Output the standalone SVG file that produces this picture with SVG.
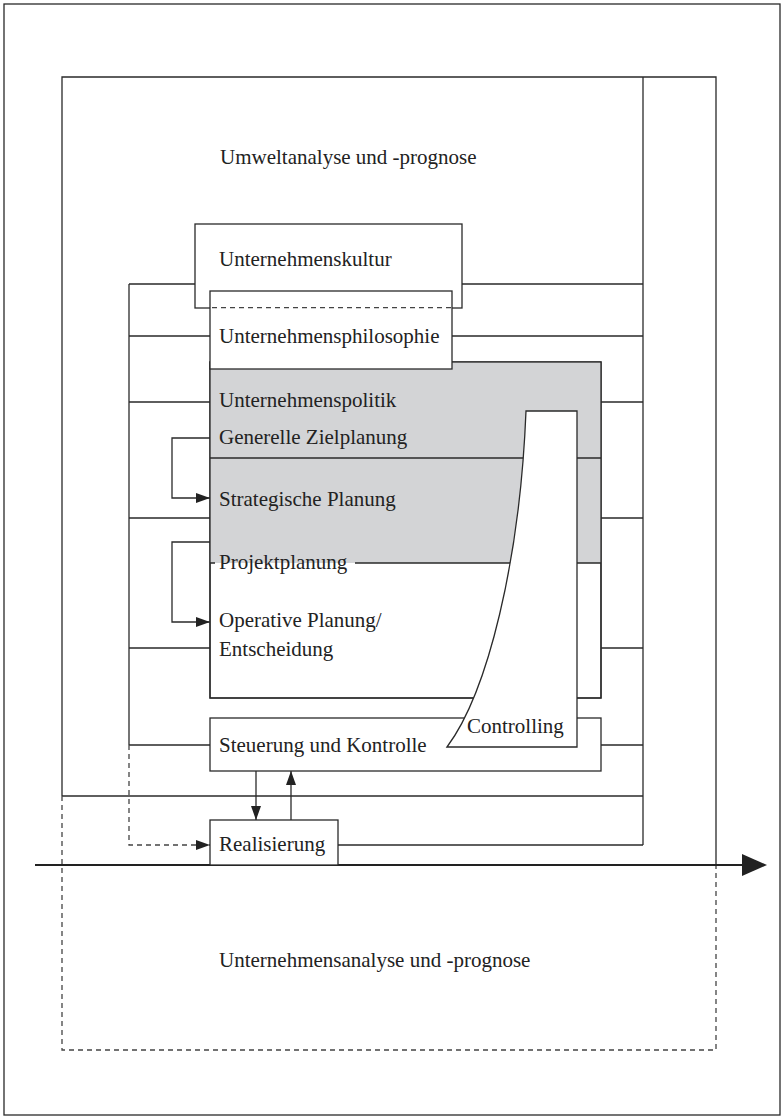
<svg xmlns="http://www.w3.org/2000/svg" width="781" height="1117" viewBox="0 0 781 1117">
<defs>
<style>
.ln{stroke:#2a2a2a;stroke-width:1.3;fill:none}
.box{stroke:#2a2a2a;stroke-width:1.3;fill:#fff}
.dash{stroke:#444;stroke-width:1.3;fill:none;stroke-dasharray:5 4}
.gray{fill:#d3d4d6;stroke:none}
.t{font-family:"Liberation Serif","Times New Roman",serif;font-size:21px;fill:#222}
</style>
<marker id="ah" viewBox="0 0 14 10" refX="14" refY="5" markerWidth="14" markerHeight="10" markerUnits="userSpaceOnUse" orient="auto"><path d="M0,0 L14,5 L0,10 z" fill="#222"/></marker>
</defs>
<rect x="0" y="0" width="781" height="1117" fill="#fff"/>
<rect x="4" y="4" width="776" height="1111" class="ln"/>

<g id="umwelt">
<path class="ln" d="M62,796 V77 H716 V865"/>
<path class="ln" d="M62,796 H643"/>
<text class="t" x="220" y="164">Umweltanalyse und -prognose</text>
</g>

<g id="unternehmensanalyse">
<path class="dash" d="M62,796 V1050 H716 V865"/>
<text class="t" x="219" y="967">Unternehmensanalyse und -prognose</text>
</g>

<g id="connectors">
<path class="ln" d="M129,284 V745"/>
<path class="ln" d="M643,77 V845"/>
<path class="ln" d="M129,284 H195 M462,284 H643"/>
<path class="ln" d="M129,336 H210 M452,336 H643"/>
<path class="ln" d="M129,402 H210 M601,402 H643"/>
<path class="ln" d="M129,518 H210 M601,518 H643"/>
<path class="ln" d="M129,648 H210 M601,648 H643"/>
<path class="ln" d="M129,745 H210 M601,745 H643"/>
<path class="ln" d="M338,845 H643"/>
<path class="ln" d="M210,438 H172 V498 H210" marker-end="url(#ah)"/>
<path class="ln" d="M210,542 H172 V622 H210" marker-end="url(#ah)"/>
<path class="dash" d="M129,745 V845 H210" marker-end="url(#ah)"/>
<path class="ln" d="M256,771 V820" marker-end="url(#ah)"/>
<path class="ln" d="M291,820 V771" marker-end="url(#ah)"/>
<path d="M35,865 H744" stroke="#222" stroke-width="2.2" fill="none"/>
<polygon points="742,854 767,865 742,876" fill="#222"/>
</g>

<g id="kultur">
<rect class="box" x="195" y="224" width="267" height="84"/>
<text class="t" x="219" y="266">Unternehmenskultur</text>
</g>

<g id="planung">
<rect class="box" x="210" y="362" width="391" height="336"/>
<rect class="gray" x="210" y="362" width="391" height="201"/>
<path class="ln" d="M210,458 H601"/>
<path class="ln" d="M210,563 H215 M355,563 H601"/>
<rect class="ln" x="210" y="362" width="391" height="336"/>
<text class="t" x="219" y="407">Unternehmenspolitik</text>
<text class="t" x="219" y="444">Generelle Zielplanung</text>
<text class="t" x="219" y="506">Strategische Planung</text>
<text class="t" x="219" y="569">Projektplanung</text>
<text class="t" x="219" y="627">Operative Planung/</text>
<text class="t" x="219" y="656">Entscheidung</text>
</g>

<g id="philosophie">
<rect class="box" x="210" y="291" width="242" height="78"/>
<path class="dash" d="M212,307.7 H451"/>
<text class="t" x="219" y="343">Unternehmensphilosophie</text>
</g>

<g id="steuerung">
<rect class="box" x="210" y="718" width="391" height="53"/>
<text class="t" x="219" y="752">Steuerung und Kontrolle</text>
</g>

<g id="controlling">
<path class="box" d="M526,411 H577 V747 H447 C488,692 520,560 526,411 Z"/>
<text class="t" x="467" y="733">Controlling</text>
</g>

<g id="realisierung">
<rect class="box" x="210" y="820" width="128" height="45"/>
<text class="t" x="219" y="851">Realisierung</text>
</g>
</svg>
